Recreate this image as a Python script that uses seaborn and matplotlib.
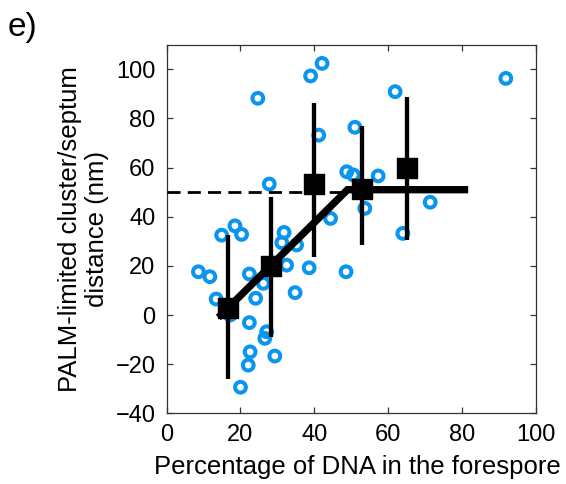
import matplotlib
matplotlib.use("Agg")
import matplotlib.pyplot as plt
import seaborn as sns
import pandas as pd

# individual measurements (open circles)
dna_pct = [8.6, 11.7, 13.4, 14.9, 17.2, 18.5, 20.3, 20.0, 22.1, 22.6,
           22.4, 22.4, 24.1, 24.7, 26.2, 26.6, 27.1, 27.8, 29.3, 31.2,
           31.8, 32.5, 34.8, 35.2, 38.6, 39.0, 41.2, 42.1, 44.4, 48.6,
           48.8, 50.6, 51.0, 53.7, 57.3, 61.9, 64.0, 65.9, 71.4, 91.9]
distance = [17.6, 15.6, 6.5, 32.5, 0.0, 36.3, 32.8, -29.4, -20.4, -15.0,
            -3.1, 16.7, 6.8, 88.2, 12.9, -9.5, -6.8, 53.3, -16.7, 29.4,
            33.6, 20.3, 9.1, 28.5, 19.2, 97.3, 73.2, 102.4, 39.3, 17.6,
            58.3, 57.0, 76.4, 43.4, 56.6, 90.9, 33.2, 58.7, 45.9, 96.3]

# binned means with spread
bin_x = [16.5, 28.4, 40.0, 53.0, 65.0]
bin_mean = [2.7, 20.1, 53.2, 51.1, 59.7]
bin_low = [-26.1, -8.8, 23.5, 28.5, 30.5]
bin_high = [32.5, 48.1, 86.4, 76.9, 88.6]

# piecewise-linear fit
fit_x = [14.0, 49.0, 81.7]
fit_y = [-1.0, 51.0, 51.0]

# plateau reference
ref_x = [0, 48]
ref_y = [50, 50]

x_ticks = [0, 20, 40, 60, 80, 100]
y_ticks = [-40, -20, 0, 20, 40, 60, 80, 100]

sns.set_style("ticks")
plt.rcParams['font.family'] = ['Liberation Sans', 'DejaVu Sans']
plt.rcParams['text.color'] = 'black'
plt.rcParams['axes.labelcolor'] = 'black'

fig = plt.figure(figsize=(5.66, 4.84), dpi=100)
ax = fig.add_axes([0.2945, 0.1461, 0.652, 0.7615])

blue = "#0A96EE"
df = pd.DataFrame({"x": dna_pct, "y": distance})
sns.scatterplot(data=df, x="x", y="y", ax=ax, marker="o", s=60,
                facecolors="none", edgecolor=blue, linewidth=2.9, zorder=2)

ax.plot(ref_x, ref_y, color="black", lw=2.0, dashes=(4.7, 2.6), zorder=3)
sns.lineplot(x=fit_x, y=fit_y, ax=ax, color="black", lw=5.3, sort=False,
             zorder=4, solid_capstyle="butt", solid_joinstyle="miter")
ax.vlines(bin_x, bin_low, bin_high, color="black", lw=3.1, zorder=5)
sns.scatterplot(x=bin_x, y=bin_mean, ax=ax, marker="s", s=15**2,
                color="black", edgecolor="black", linewidth=1, zorder=6)

ax.set_xlim(0, 100)
ax.set_ylim(-40, 110)
ax.set_xticks(x_ticks)
ax.set_yticks(y_ticks)
for sp in ax.spines.values():
    sp.set_visible(True)
    sp.set_color("#333333")
    sp.set_linewidth(0.9)
ax.tick_params(direction="in", top=True, right=True, length=4, width=0.9,
               color="#333333", labelsize=17, labelcolor="black")
ax.tick_params(axis="y", pad=8)
ax.tick_params(axis="x", pad=8)
ax.set_xlabel("Percentage of DNA in the forespore", fontsize=18.5,
              color="black")
ax.set_ylabel("PALM-limited cluster/septum\ndistance (nm)", fontsize=18.5,
              linespacing=1.15, color="black")
ax.xaxis.set_label_coords(0.518, -0.113)
ax.yaxis.set_label_coords(-0.157, 0.5)

fig.text(0.014, 0.975, "e)", fontsize=24, ha="left", va="top", color="black")

fig.savefig("out.png", dpi=100)
